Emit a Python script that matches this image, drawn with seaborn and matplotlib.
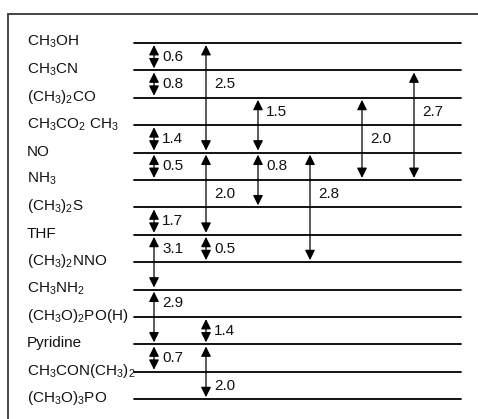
import matplotlib
matplotlib.use("Agg")
import matplotlib.pyplot as plt
from matplotlib.lines import Line2D
import pandas as pd
import seaborn as sns

# Compounds, top to bottom
compounds = [
    "CH$_3$OH", "CH$_3$CN", "(CH$_3$)$_2$CO", "CH$_3$CO$_2$ CH$_3$", "NO",
    "NH$_3$", "(CH$_3$)$_2$S", "THF", "(CH$_3$)$_2$NNO", "CH$_3$NH$_2$",
    "(CH$_3$O)$_2$PO(H)", "Pyridine", "CH$_3$CON(CH$_3$)$_2$", "(CH$_3$O)$_3$PO",
]

# Differences between pairs of compounds
pair_from = [0, 1, 0, 3, 4, 4, 2, 4, 4, 2, 1, 6, 7, 7, 9, 10, 11, 11]
pair_to = [1, 2, 4, 4, 5, 7, 4, 6, 8, 5, 5, 7, 9, 8, 11, 11, 12, 13]
pair_value = [0.6, 0.8, 2.5, 1.4, 0.5, 2.0, 1.5, 0.8, 2.8, 2.0, 2.7, 1.7,
              3.1, 0.5, 2.9, 1.4, 0.7, 2.0]

# Layout of the arrows: column and the row where each value is written
arrow_col = [0, 0, 1, 0, 0, 1, 2, 2, 3, 4, 5, 0, 0, 1, 0, 1, 0, 1]
label_row = [0.5, 1.5, 1.5, 3.5, 4.5, 5.5, 2.5, 4.5, 5.5, 3.5, 2.5, 6.5,
             7.5, 7.5, 9.5, 10.5, 11.5, 12.5]

sns.set_theme(style="white")
plt.rcParams["font.family"] = ["Liberation Sans", "DejaVu Sans"]
plt.rcParams["mathtext.fontset"] = "custom"
plt.rcParams["mathtext.rm"] = "Liberation Sans"
plt.rcParams["mathtext.it"] = "Liberation Sans"
plt.rcParams["mathtext.bf"] = "Liberation Sans:bold"
plt.rcParams["mathtext.default"] = "regular"

W, H = 478, 419
fig = plt.figure(figsize=(W / 100, H / 100), dpi=100)
ax = fig.add_axes([0, 0, 1, 1])

# pixel -> data mapping (columns 52 px apart, rows 27.4 px apart)
col0_px, col_step = 154.0, 52.0
row0_px, row_step = 43.0, 27.4

line_x0 = (134 - col0_px) / col_step
line_x1 = (461 - col0_px) / col_step
label_x = (27 - col0_px) / col_step

levels = pd.DataFrame({
    "compound": [c for c in compounds for _ in range(2)],
    "x": [line_x0, line_x1] * len(compounds),
    "row": [i for i in range(len(compounds)) for _ in range(2)],
})
sns.lineplot(data=levels, x="x", y="row", units="compound", estimator=None,
             color="black", lw=1.3, ax=ax, legend=False)
ax.set_xlim(-col0_px / col_step, (W - col0_px) / col_step)
ax.set_ylim((H - row0_px) / row_step, -row0_px / row_step)
ax.axis("off")

for i, name in enumerate(compounds):
    ax.text(label_x, i + 0.11, name, fontsize=11, ha="left", va="baseline",
            color="#111111")

for a, b, v, c, r in zip(pair_from, pair_to, pair_value, arrow_col, label_row):
    ax.annotate("", xy=(c, b), xytext=(c, a),
                arrowprops=dict(arrowstyle="<|-|>,head_length=0.5,head_width=0.25",
                                mutation_scale=12, color="black", lw=0.9,
                                shrinkA=1.5, shrinkB=1.5))
    ax.annotate(f"{v:.1f}", xy=(c, r), xytext=(6, 0), textcoords="offset points",
                fontsize=11, ha="left", va="center", color="#111111")

# open frame: top and left edges
fx, fy = 8 / W, 1 - 14 / H
fig.add_artist(Line2D([fx, 1.0], [fy, fy], color="#444444", lw=1.4))
fig.add_artist(Line2D([fx, fx], [fy, 0.0], color="#444444", lw=1.4))

fig.savefig("out.png", dpi=100, facecolor="white")
